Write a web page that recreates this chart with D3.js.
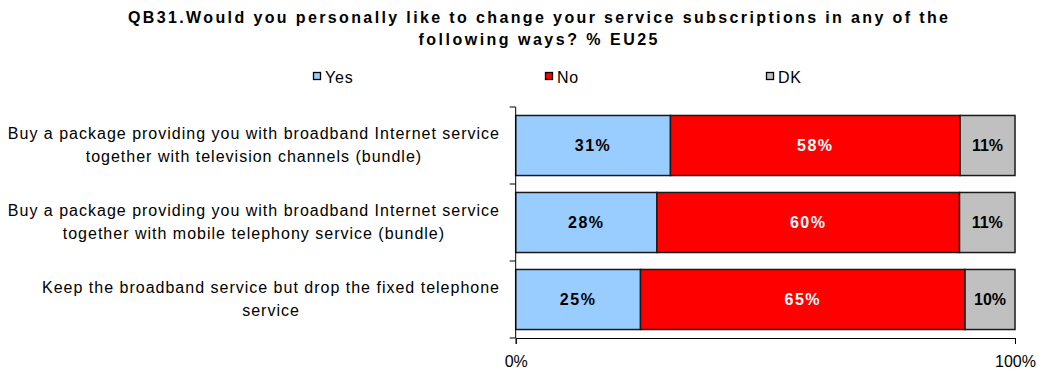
<!DOCTYPE html>
<html>
<head>
<meta charset="utf-8">
<script src="https://cdn.jsdelivr.net/npm/d3@7"></script>
<style>
  html, body { margin: 0; padding: 0; background: #fff; }
  svg { display: block; font-family: "Liberation Sans", Arial, sans-serif; }
</style>
</head>
<body>
<svg id="chart" width="1039" height="374"></svg>
<script>
// Survey answers, one row per question item
const categories = [
  ["Buy a package providing you with broadband Internet service", "together with television channels (bundle)"],
  ["Buy a package providing you with broadband Internet service", "together with mobile telephony service (bundle)"],
  ["Keep the broadband service but drop the fixed telephone", "service"]
];
const seriesNames = ["Yes", "No", "DK"];
const yesValues = [31, 28, 25];
const noValues = [58, 60, 65];
const dkValues = [11, 11, 10];
const xTickValues = [0, 1];
const titleLines = [
  "QB31.Would you personally like to change your service subscriptions in any of the",
  "following ways? % EU25"
];

const colors = { Yes: "#99CCFF", No: "#FF0000", DK: "#C0C0C0" };
const labelColors = { Yes: "#000", No: "#fff", DK: "#000" };

const rows = categories.map((c, i) => ({
  key: i, lines: c, Yes: yesValues[i], No: noValues[i], DK: dkValues[i]
}));

const svg = d3.select("#chart");

const x = d3.scaleLinear().domain([0, 1]).range([515.7, 1015]);
const y = d3.scaleBand()
  .domain(rows.map(r => r.key))
  .range([107, 338])
  .paddingInner(0.22)
  .paddingOuter(0.11);

// 100% stacked layout
const stacked = d3.stack().keys(seriesNames).offset(d3.stackOffsetExpand)(rows);

// Title
const title = svg.append("g").attr("font-weight", "bold").attr("font-size", 16).attr("fill", "#000");
const titleWidths = [820, 239];
titleLines.forEach((t, i) => {
  title.append("text")
    .attr("x", 538).attr("y", 23 + i * 22)
    .attr("text-anchor", "middle")
    .attr("textLength", titleWidths[i])
    .attr("lengthAdjust", "spacing")
    .text(t);
});

// Legend
const legendX = [313, 545, 766];
const legend = svg.append("g");
seriesNames.forEach((s, i) => {
  const g = legend.append("g").attr("transform", `translate(${legendX[i]},72)`);
  g.append("rect").attr("x", 0.5).attr("y", 0.5).attr("width", 7).attr("height", 7)
    .attr("fill", colors[s]).attr("stroke", "#000").attr("stroke-width", 1.3);
  g.append("text").attr("x", 12).attr("y", 10.5)
    .attr("font-size", 16).attr("letter-spacing", 0.8).attr("fill", "#000").text(s);
});

// Bars
const layers = svg.append("g").selectAll("g").data(stacked).join("g")
  .attr("fill", d => colors[d.key]);

layers.selectAll("rect").data(d => d.map(p => ({ p, key: d.key }))).join("rect")
  .attr("x", d => x(d.p[0]))
  .attr("y", d => y(d.p.data.key))
  .attr("width", d => x(d.p[1]) - x(d.p[0]))
  .attr("height", y.bandwidth())
  .attr("stroke", "#1a1a1a")
  .attr("stroke-width", 1.5);

// Value labels
layers.selectAll("text").data(d => d.map(p => ({ p, key: d.key }))).join("text")
  .attr("x", d => (x(d.p[0]) + x(d.p[1])) / 2)
  .attr("y", d => y(d.p.data.key) + y.bandwidth() / 2)
  .attr("dy", "0.36em")
  .attr("text-anchor", "middle")
  .attr("font-size", 16)
  .attr("font-weight", "bold")
  .attr("letter-spacing", d => d.key === "DK" ? 0 : 1.5)
  .attr("fill", d => labelColors[d.key])
  .text(d => d.p.data[d.key] + "%");

// Category axis (left): vertical line with ticks between the bands
const yAxisG = svg.append("g").attr("transform", `translate(${x(0)},0)`);
yAxisG.append("line").attr("x1", 0).attr("x2", 0).attr("y1", 107).attr("y2", 338)
  .attr("stroke", "#000").attr("stroke-width", 1);
const boundaries = [107, ...rows.map(r => y(r.key) + y.bandwidth() + (r.key === rows.length - 1 ? y.step() * y.paddingOuter() : y.step() * y.paddingInner() / 2))];
yAxisG.selectAll("line.tick").data(boundaries).join("line").attr("class", "tick")
  .attr("x1", -6).attr("x2", 0).attr("y1", d => d).attr("y2", d => d)
  .attr("stroke", "#000").attr("stroke-width", 1);

// Category labels, lines centred within a right-aligned block
const catG = svg.append("g").attr("font-size", 16).attr("letter-spacing", 1).attr("fill", "#000");
rows.forEach(r => {
  const block = catG.append("g");
  const texts = r.lines.map((line, i) => block.append("text")
    .attr("y", y(r.key) + y.bandwidth() / 2 - 7 + i * 23.5)
    .attr("text-anchor", "middle")
    .text(line));
  const maxW = d3.max(texts, t => t.node().getComputedTextLength());
  texts.forEach(t => t.attr("x", 500 - maxW / 2));
});

// Value axis (bottom)
const xAxis = d3.axisBottom(x).tickValues(xTickValues).tickFormat(d3.format(".0%")).tickSize(6).tickPadding(12);
const xAxisG = svg.append("g").attr("transform", "translate(0,338)").call(xAxis);
xAxisG.select(".domain").attr("stroke", "#000");
xAxisG.selectAll(".tick line").attr("stroke", "#000");
xAxisG.selectAll(".tick text").attr("font-size", 16).attr("fill", "#000")
  .attr("font-family", "'Liberation Sans', Arial, sans-serif");
</script>
</body>
</html>
